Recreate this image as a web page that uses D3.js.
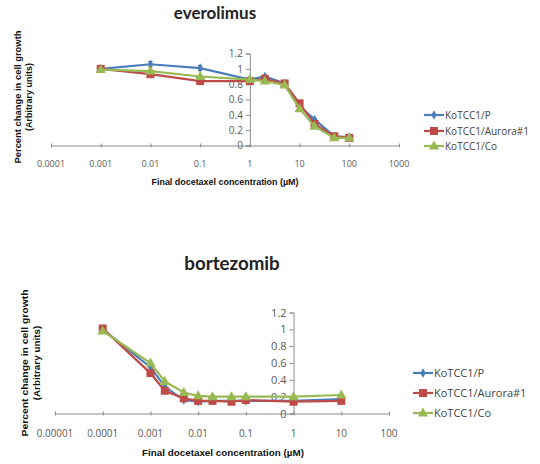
<!DOCTYPE html>
<html>
<head>
<meta charset="utf-8">
<script src="https://cdn.jsdelivr.net/npm/d3@7"></script>
<style>
  body { margin: 0; background: #fff; }
  svg { display: block; }
</style>
</head>
<body>
<div id="chart"></div>
<script>
// series names
var seriesNames = ['KoTCC1/P', 'KoTCC1/Aurora#1', 'KoTCC1/Co'];

// everolimus panel
var everoDose = [0.001, 0.01, 0.1, 1, 2, 5, 10, 20, 50, 100];
var everoP = [1.0, 1.06, 1.01, 0.86, 0.90, 0.81, 0.51, 0.34, 0.12, 0.11];
var everoAurora = [1.0, 0.93, 0.84, 0.84, 0.87, 0.81, 0.55, 0.28, 0.12, 0.10];
var everoCo = [0.99, 0.97, 0.90, 0.86, 0.84, 0.79, 0.48, 0.25, 0.10, 0.10];
var everoPErr = [0, 0.035, 0.03, 0.01, 0.02, 0.01, 0.01, 0.01, 0, 0];
var everoXTicks = [0.0001, 0.001, 0.01, 0.1, 1, 10, 100, 1000];

// bortezomib panel
var bortDose = [0.0001, 0.001, 0.002, 0.005, 0.01, 0.02, 0.05, 0.1, 1, 10];
var bortP = [1.0, 0.55, 0.32, 0.16, 0.14, 0.15, 0.15, 0.15, 0.15, 0.17];
var bortAurora = [1.01, 0.48, 0.27, 0.18, 0.15, 0.15, 0.14, 0.16, 0.14, 0.15];
var bortCo = [0.98, 0.60, 0.38, 0.25, 0.21, 0.20, 0.20, 0.20, 0.20, 0.22];
var bortXTicks = [0.00001, 0.0001, 0.001, 0.01, 0.1, 1, 10, 100];

var yTicks = [0, 0.2, 0.4, 0.6, 0.8, 1, 1.2];

var colors = ['#4a7ebb', '#be4b48', '#98b954'];
var markers = ['diamond', 'square', 'triangle'];
var axisColor = '#8c8c8c';
var labelColor = '#595959';

var svg = d3.select('#chart').append('svg')
    .attr('width', 540)
    .attr('height', 464);

function marker(g, type, x, y, color) {
  if (type === 'diamond') {
    g.append('path')
      .attr('d', d3.symbol().type(d3.symbolDiamond).size(26)())
      .attr('transform', 'translate(' + x + ',' + y + ')')
      .attr('fill', color);
  } else if (type === 'square') {
    g.append('rect')
      .attr('x', x - 4).attr('y', y - 4)
      .attr('width', 8).attr('height', 8)
      .attr('fill', color);
  } else {
    g.append('path')
      .attr('d', d3.symbol().type(d3.symbolTriangle).size(46)())
      .attr('transform', 'translate(' + x + ',' + (y + 0.5) + ')')
      .attr('fill', color);
  }
}

function drawPanel(opt) {
  var g = svg.append('g');
  var s = opt.scale;
  var x = d3.scaleLog().domain(opt.xDomain).range(opt.xRange);
  var y = d3.scaleLinear().domain([0, 1.2]).range(opt.yRange);
  var fmt = function(d) { return d3.format('~f')(+d.toPrecision(1)); };

  // title
  g.append('text')
    .attr('x', opt.titleX).attr('y', opt.titleY)
    .attr('text-anchor', 'middle')
    .style('font-family', 'Lato, "Open Sans", sans-serif')
    .style('font-weight', 'bold')
    .style('font-size', (17 * s) + 'px')
    .style('fill', '#222')
    .text(opt.title);

  // x axis line with cross ticks
  var xAxis = d3.axisBottom(x).tickValues(opt.xTicks).tickSize(0).tickFormat('');
  var xg = g.append('g').attr('transform', 'translate(0,' + y(0) + ')').call(xAxis);
  xg.select('.domain').attr('stroke', axisColor);
  xg.selectAll('.tick').append('line')
    .attr('y1', -2).attr('y2', 2).attr('stroke', axisColor);

  g.selectAll('.xlab')
    .data(opt.xTicks)
    .enter().append('text')
    .attr('x', function(d) { return x(d); })
    .attr('y', y(0) + 21 * s)
    .attr('text-anchor', 'middle')
    .style('font-family', '"Open Sans", sans-serif')
    .style('font-size', (9 * s) + 'px')
    .style('fill', labelColor)
    .text(fmt);

  // y axis at x = 1
  var yAxis = d3.axisLeft(y).tickValues(yTicks).tickSize(4).tickPadding(3)
    .tickFormat(function(d) { return d3.format('~g')(d); });
  var yg = g.append('g').attr('transform', 'translate(' + x(1) + ',0)').call(yAxis);
  yg.select('.domain').attr('stroke', axisColor);
  yg.selectAll('.tick line').attr('stroke', axisColor);
  yg.selectAll('.tick text')
    .style('font-family', '"Open Sans", sans-serif')
    .style('font-size', (10 * s) + 'px')
    .style('fill', labelColor);

  // axis titles
  var yt = g.append('text')
    .attr('transform', 'translate(' + opt.yTitleX + ',' + opt.yTitleY + ') rotate(-90)')
    .attr('text-anchor', 'middle')
    .style('font-family', '"Liberation Sans", Arial, sans-serif')
    .style('font-weight', 'bold')
    .style('font-size', (9 * s) + 'px')
    .style('fill', '#111');
  yt.append('tspan').attr('x', 0).attr('dy', 0)
    .attr('textLength', opt.yTitleLen).attr('lengthAdjust', 'spacingAndGlyphs')
    .text('Percent change in cell growth');
  yt.append('tspan').attr('x', 0).attr('dy', 10.5 * s).text('(Arbitrary units)');

  g.append('text')
    .attr('x', opt.xTitleX).attr('y', opt.xTitleY)
    .attr('text-anchor', 'middle')
    .attr('textLength', opt.xTitleLen).attr('lengthAdjust', 'spacingAndGlyphs')
    .style('font-family', '"Liberation Sans", Arial, sans-serif')
    .style('font-weight', 'bold')
    .style('font-size', (9 * s) + 'px')
    .style('fill', '#111')
    .text('Final docetaxel concentration (\u00b5M)');

  // series
  var line = d3.line()
    .x(function(d) { return x(d[0]); })
    .y(function(d) { return y(d[1]); });

  opt.series.forEach(function(vals, si) {
    var pts = opt.dose.map(function(d, i) { return [d, vals[i]]; });
    if (opt.errors && opt.errors[si]) {
      opt.errors[si].forEach(function(e, i) {
        if (!e) return;
        var cx = x(opt.dose[i]);
        var y0 = y(vals[i] - e), y1 = y(vals[i] + e);
        g.append('line').attr('x1', cx).attr('x2', cx).attr('y1', y0).attr('y2', y1)
          .attr('stroke', '#333').attr('stroke-width', 1);
        g.append('line').attr('x1', cx - 2).attr('x2', cx + 2).attr('y1', y0).attr('y2', y0)
          .attr('stroke', '#333');
        g.append('line').attr('x1', cx - 2).attr('x2', cx + 2).attr('y1', y1).attr('y2', y1)
          .attr('stroke', '#333');
      });
    }
    g.append('path')
      .datum(pts)
      .attr('d', line)
      .attr('fill', 'none')
      .attr('stroke', colors[si])
      .attr('stroke-width', 2.2);
    pts.forEach(function(p) {
      marker(g, markers[si], x(p[0]), y(p[1]), colors[si]);
    });
  });

  // legend
  seriesNames.forEach(function(name, i) {
    var ly = opt.legendY[i];
    g.append('line')
      .attr('x1', opt.legendX).attr('x2', opt.legendX + 20)
      .attr('y1', ly).attr('y2', ly)
      .attr('stroke', colors[i]).attr('stroke-width', 2.2);
    marker(g, markers[i], opt.legendX + 10, ly, colors[i]);
    g.append('text')
      .attr('x', opt.legendX + 21).attr('y', ly + 3.5)
      .style('font-family', '"Open Sans", sans-serif')
      .style('font-size', (10 * s) + 'px')
      .style('fill', '#444')
      .text(name);
  });
}

drawPanel({
  title: 'everolimus', titleX: 215, titleY: 19, scale: 1,
  xDomain: [0.0001, 1000], xRange: [51, 399], xTicks: everoXTicks,
  yRange: [145.5, 53.5],
  dose: everoDose,
  series: [everoP, everoAurora, everoCo],
  errors: [everoPErr],
  yTitleX: 21, yTitleY: 97, yTitleLen: 133,
  xTitleX: 225, xTitleY: 185, xTitleLen: 147,
  legendX: 424, legendY: [115, 131, 146]
});

drawPanel({
  title: 'bortezomib', titleX: 232, titleY: 270, scale: 1.1,
  xDomain: [0.00001, 100], xRange: [55, 389], xTicks: bortXTicks,
  yRange: [413.5, 312.5],
  dose: bortDose,
  series: [bortP, bortAurora, bortCo],
  yTitleX: 28, yTitleY: 363, yTitleLen: 147,
  xTitleX: 223, xTitleY: 456, xTitleLen: 162,
  legendX: 413, legendY: [373, 393, 413]
});
</script>
</body>
</html>
